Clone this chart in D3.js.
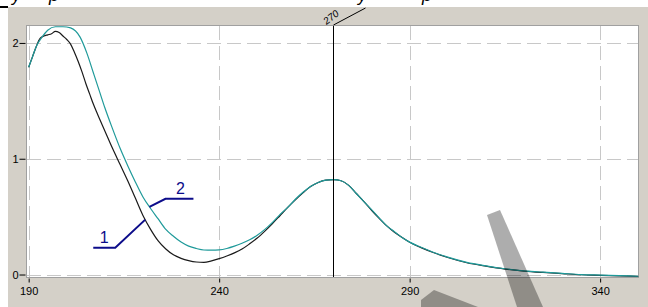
<!DOCTYPE html>
<html>
<head>
<meta charset="utf-8">
<script src="https://cdn.jsdelivr.net/npm/d3@7"></script>
<style>
  body { margin: 0; background: #fff; }
  svg { display: block; }
  .tick text { font-family: Arial, "Liberation Sans", sans-serif; font-size: 11px; fill: #000; }
</style>
</head>
<body>
<svg id="chart" width="648" height="307"></svg>
<script>
// wavelengths, nm
const wl1 = [190, 191, 192, 193, 194, 195, 196, 197, 198, 199, 200, 201, 202, 203, 204, 205, 206, 207, 208,
  210, 212, 214, 216, 218, 220, 222, 224, 226, 228, 230, 232, 234, 236, 238, 240, 242, 244, 246, 248, 250,
  252, 254, 256, 258, 260, 262, 264, 266, 268, 270, 272, 274, 276, 278, 280, 282, 284, 286, 288, 290, 293,
  296, 300, 305, 310, 315, 320, 325, 330, 335, 340, 345, 350]
// curve 1 (black)
const abs1 = [1.79, 1.88, 1.97, 2.04, 2.06, 2.07, 2.08, 2.10, 2.09, 2.06, 2.03, 1.99, 1.92, 1.84, 1.75, 1.65, 1.56, 1.47, 1.39,
  1.24, 1.09, 0.95, 0.81, 0.66, 0.51, 0.39, 0.29, 0.22, 0.17, 0.14, 0.12, 0.108, 0.105, 0.118, 0.137, 0.16, 0.187, 0.22, 0.265, 0.315,
  0.375, 0.44, 0.51, 0.58, 0.645, 0.705, 0.76, 0.795, 0.815, 0.82, 0.81, 0.77, 0.70, 0.63, 0.555, 0.485, 0.42, 0.365, 0.32, 0.278, 0.232,
  0.192, 0.147, 0.102, 0.072, 0.047, 0.030, 0.018, 0.008, -0.002, -0.007, -0.012, -0.017]

const wl2 = [190, 191, 192, 193.5, 195, 197, 199, 201, 203.5, 205.3, 207, 208.8, 210, 212, 214, 216, 218, 220, 222,
  224, 226, 228, 230, 232, 234, 236, 238, 240, 242, 244, 246, 248, 250, 252, 254, 256, 258, 260, 262, 264,
  266, 268, 270, 272, 274, 276, 278, 280, 282, 284, 286, 288, 290, 293, 296, 300, 305, 310, 315, 320, 325,
  330, 335, 340, 345, 350]
// curve 2 (teal)
const abs2 = [1.79, 1.88, 1.97, 2.05, 2.11, 2.14, 2.14, 2.13, 2.05, 1.91, 1.74, 1.56, 1.44, 1.26, 1.09, 0.94, 0.80, 0.67, 0.57,
  0.48, 0.39, 0.33, 0.28, 0.245, 0.225, 0.212, 0.21, 0.213, 0.225, 0.245, 0.27, 0.30, 0.34, 0.39, 0.45, 0.52, 0.58, 0.65, 0.71, 0.76,
  0.795, 0.815, 0.82, 0.81, 0.77, 0.70, 0.63, 0.56, 0.49, 0.42, 0.37, 0.32, 0.28, 0.235, 0.195, 0.15, 0.105, 0.075, 0.05, 0.032, 0.02,
  0.01, 0.0, -0.005, -0.01, -0.015]

const xTicks = [190, 240, 290, 340]
const yTicks = [0, 1, 2]
const marker = 270
// curve labels: name and the wavelength where its leader touches the curve
const labelNames = ['1', '2']
const labelAt = [220.6, 221.7]

const svg = d3.select('#chart')

// window background
svg.append('rect').attr('x', 8).attr('y', 7).attr('width', 640).attr('height', 300).attr('fill', '#d4d0c8')
svg.append('line').attr('x1', 0).attr('x2', 8).attr('y1', 7).attr('y2', 7)
  .attr('stroke', '#000').attr('stroke-width', 2)

// cut-off title descenders at the very top
const topGlyphs = [['у', 12], ['р', 49], ['у', 358], ['р', 422]]
topGlyphs.forEach(function (g) {
  svg.append('text').text(g[0]).attr('x', g[1]).attr('y', 1)
    .attr('font-family', 'Arial, sans-serif').attr('font-style', 'italic').attr('font-size', '18px').attr('fill', '#000')
})

const x = d3.scaleLinear().domain([189.3, 350.2]).range([26, 639])
const y = d3.scaleLinear().domain([-0.03, 2.155]).range([278, 25])

// plot frame
svg.append('rect').attr('x', 26.5).attr('y', 25.5).attr('width', 612).attr('height', 252)
  .attr('fill', '#fff').attr('stroke', '#a0a0a0')

// grid
const grid = svg.append('g').attr('stroke', '#c8c8c8').attr('stroke-dasharray', '14,6')
grid.selectAll('.gx').data(xTicks).join('line')
  .attr('x1', d => Math.round(x(d)) + 0.5).attr('x2', d => Math.round(x(d)) + 0.5)
  .attr('y1', 26).attr('y2', 277)
grid.selectAll('.gy').data(yTicks).join('line')
  .attr('x1', 27).attr('x2', 638)
  .attr('y1', d => Math.round(y(d)) + 0.5).attr('y2', d => Math.round(y(d)) + 0.5)

// axes
const xAxis = svg.append('g').attr('transform', 'translate(0,278.5)')
  .call(d3.axisBottom(x).tickValues(xTicks).tickSize(4).tickPadding(5).tickFormat(d3.format('d')))
xAxis.select('.domain').remove()
xAxis.selectAll('.tick line').attr('stroke', '#000')

const yAxis = svg.append('g').attr('transform', 'translate(25.5,0)')
  .call(d3.axisLeft(y).tickValues(yTicks).tickSize(6).tickPadding(1).tickFormat(d3.format('d')))
yAxis.select('.domain').remove()
yAxis.selectAll('.tick line').attr('stroke', '#000')

// curves
const line = d3.line().x(d => x(d[0])).y(d => y(d[1])).curve(d3.curveMonotoneX)
const pts1 = wl1.map((w, i) => [w, abs1[i]])
const pts2 = wl2.map((w, i) => [w, abs2[i]])

svg.append('path').datum(pts1).attr('d', line)
  .attr('fill', 'none').attr('stroke', '#1a1a1a').attr('stroke-width', 1.2)
svg.append('path').datum(pts2).attr('d', line)
  .attr('fill', 'none').attr('stroke', '#1f9a9a').attr('stroke-width', 1.2)

// marker line at 270 nm
const mx = Math.round(x(marker)) + 0.5
svg.append('line').attr('x1', mx).attr('x2', mx).attr('y1', 26).attr('y2', 277)
  .attr('stroke', '#000').attr('stroke-width', 1)
svg.append('line').attr('x1', mx).attr('y1', 25).attr('x2', mx + 32).attr('y2', 8)
  .attr('stroke', '#000').attr('stroke-width', 1)
svg.append('text').text(marker).attr('transform', 'translate(' + (mx - 7) + ',25) rotate(-38)')
  .attr('font-family', 'Arial, sans-serif').attr('font-style', 'italic').attr('font-size', '10px').attr('fill', '#000')

// curve labels with leaders
const interp = (ws, vs, w) => {
  const i = d3.bisectLeft(ws, w)
  const t = (w - ws[i - 1]) / (ws[i] - ws[i - 1])
  return vs[i - 1] + t * (vs[i] - vs[i - 1])
}
const navy = '#0c0c8a'
labelNames.forEach(function (name, i) {
  const w = labelAt[i]
  const v = i === 0 ? interp(wl1, abs1, w) : interp(wl2, abs2, w)
  const ax = x(w), ay = y(v)
  let ex, ey, hx
  if (i === 0) { ex = ax - 30; ey = ay + 28; hx = ex - 22 }
  else { ex = ax + 16; ey = ay - 8; hx = ex + 28 }
  svg.append('path').attr('d', 'M' + ax + ',' + ay + 'L' + ex + ',' + ey + 'L' + hx + ',' + ey)
    .attr('fill', 'none').attr('stroke', navy).attr('stroke-width', 2)
  svg.append('text').text(name).attr('x', (ex + hx) / 2 + (i === 0 ? 0 : 1)).attr('y', ey - 5)
    .attr('text-anchor', 'middle').attr('font-family', 'Arial, sans-serif').attr('font-size', '16px')
    .attr('fill', navy)
})

// watermark strokes
svg.append('polygon').attr('points', '487,215 500,210 543,307 517,307').attr('fill', 'rgba(0,0,0,0.32)')
svg.append('polygon').attr('points', '421,300 434,290 478,307 421,307').attr('fill', 'rgba(0,0,0,0.32)')
</script>
</body>
</html>
